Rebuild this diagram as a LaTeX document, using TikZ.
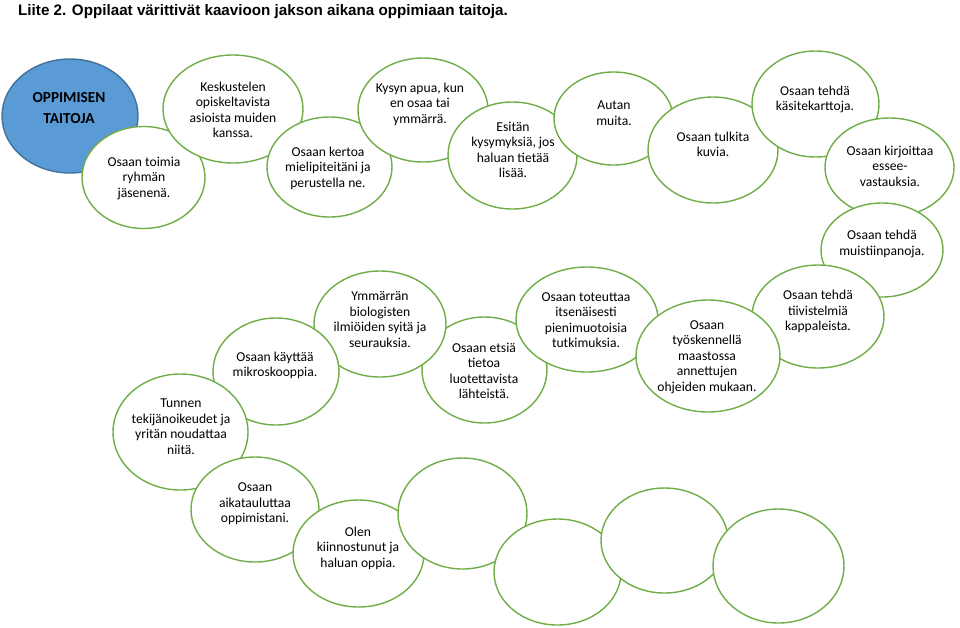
\documentclass[tikz,border=0pt]{standalone}
\usepackage{fontspec}
\setmainfont{Carlito}
\newfontfamily\titlefont{Liberation Sans}
\usetikzlibrary{shapes.geometric}
\definecolor{bubgreen}{HTML}{70AD47}
\definecolor{bubblue}{HTML}{5B9BD5}
\definecolor{bubblueedge}{HTML}{41719C}
\tikzset{
  bub/.style={ellipse, draw=bubgreen, line width=1.4pt, fill=white, inner sep=0pt, outer sep=0pt},
  bubmain/.style={ellipse, draw=bubblueedge, line width=1.4pt, fill=bubblue, inner sep=0pt, outer sep=0pt},
  txt/.style={align=center, inner sep=0pt, font=\fontsize{13.6}{15.5}\selectfont, text=black},
  maintxt/.style={align=center, inner sep=0pt, font=\fontsize{15.3}{20.7}\selectfont\bfseries, text=black},
  titletxt/.style={anchor=base west, inner sep=0pt, font=\titlefont\fontsize{15.2}{17}\selectfont\bfseries}
}
\begin{document}
\begin{tikzpicture}[x=1pt,y=-1pt]
\useasboundingbox (0,0) rectangle (960,627);
\fill[white] (0,0) rectangle (960,627);
\node[titletxt] (title) at (18,15.5) {Liite 2. Oppilaat värittivät kaavioon jakson aikana oppimiaan taitoja.};
% main
\node[bubmain, minimum width=136pt, minimum height=114pt] (main) at (70,116) {};
\node[maintxt] (maint) at (69,108) {OPPIMISEN\\TAITOJA};
% bubbles
\node[bub, minimum width=123pt, minimum height=102pt] (b1) at (143.5,177.5) {};
\node[txt] (b1t) at (144,178) {Osaan toimia\\ryhmän\\jäsenenä.};
\node[bub, minimum width=140pt, minimum height=108pt] (b2) at (233,109) {};
\node[txt] (b2t) at (233,110) {Keskustelen\\opiskeltavista\\asioista muiden\\kanssa.};
\node[bub, minimum width=125pt, minimum height=100pt] (b3) at (329.5,167) {};
\node[txt] (b3t) at (328,168) {Osaan kertoa\\mielipiteitäni ja\\perustella ne.};
\node[bub, minimum width=130pt, minimum height=104pt] (b4) at (423,110) {};
\node[txt] (b4t) at (420,104) {Kysyn apua, kun\\en osaa tai\\ymmärrä.};
\node[bub, minimum width=129pt, minimum height=107pt] (b5) at (512.5,155.5) {};
\node[txt] (b5t) at (513,150) {Esitän\\kysymyksiä, jos\\haluan tietää\\lisää.};
\node[bub, minimum width=119pt, minimum height=93pt] (b6) at (613.5,118.5) {};
\node[txt] (b6t) at (614,113) {Autan\\muita.};
\node[bub, minimum width=130pt, minimum height=106pt] (b7) at (713,150) {};
\node[txt] (b7t) at (713,144.5) {Osaan tulkita\\kuvia.};
\node[bub, minimum width=127pt, minimum height=106pt] (b8) at (815.5,104) {};
\node[txt] (b8t) at (815,99.5) {Osaan tehdä\\käsitekarttoja.};
\node[bub, minimum width=129pt, minimum height=99pt] (b9) at (889.5,167.5) {};
\node[txt] (b9t) at (890,166) {Osaan kirjoittaa\\essee-\\vastauksia.};
\node[bub, minimum width=122pt, minimum height=94pt] (b10) at (882,250) {};
\node[txt] (b10t) at (882,244) {Osaan tehdä\\muistiinpanoja.};
\node[bub, minimum width=132pt, minimum height=103pt] (b11) at (818,316.5) {};
\node[txt] (b11t) at (818,311.5) {Osaan tehdä\\tiivistelmiä\\kappaleista.};
\node[bub, minimum width=125pt, minimum height=106pt] (b14) at (484.5,370) {};
\node[txt] (b14t) at (484,371) {Osaan etsiä\\tietoa\\luotettavista\\lähteistä.};
\node[bub, minimum width=142pt, minimum height=105pt] (b13) at (587,319.5) {};
\node[txt] (b13t) at (586,320) {Osaan toteuttaa\\itsenäisesti\\pienimuotoisia\\tutkimuksia.};
\node[bub, minimum width=144pt, minimum height=112pt] (b12) at (708,356) {};
\node[txt] (b12t) at (707,357) {Osaan\\työskennellä\\maastossa\\annettujen\\ohjeiden mukaan.};
\node[bub, minimum width=132pt, minimum height=106pt] (b15) at (380,324) {};
\node[txt] (b15t) at (380,319.5) {Ymmärrän\\biologisten\\ilmiöiden syitä ja\\seurauksia.};
\node[bub, minimum width=126pt, minimum height=107pt] (b16) at (276,371.5) {};
\node[txt] (b16t) at (275,365.5) {Osaan käyttää\\mikroskooppia.};
\node[bub, minimum width=135pt, minimum height=116pt] (b17) at (180.5,432) {};
\node[txt] (b17t) at (181,426.5) {Tunnen\\tekijänoikeudet ja\\yritän noudattaa\\niitä.};
\node[bub, minimum width=128pt, minimum height=105pt] (b18) at (255,509.5) {};
\node[txt] (b18t) at (255,504) {Osaan\\aikatauluttaa\\oppimistani.};
\node[bub, minimum width=131pt, minimum height=107pt] (b19) at (358.5,553.5) {};
\node[txt] (b19t) at (358,548) {Olen\\kiinnostunut ja\\haluan oppia.};
% empty bubbles
\node[bub, minimum width=129pt, minimum height=111pt] (e1) at (462.5,513.5) {};
\node[bub, minimum width=127pt, minimum height=106pt] (e2) at (557.5,572) {};
\node[bub, minimum width=127pt, minimum height=105pt] (e3) at (664.5,540.5) {};
\node[bub, minimum width=131pt, minimum height=114pt] (e4) at (778.5,566) {};
\end{tikzpicture}
\end{document}
